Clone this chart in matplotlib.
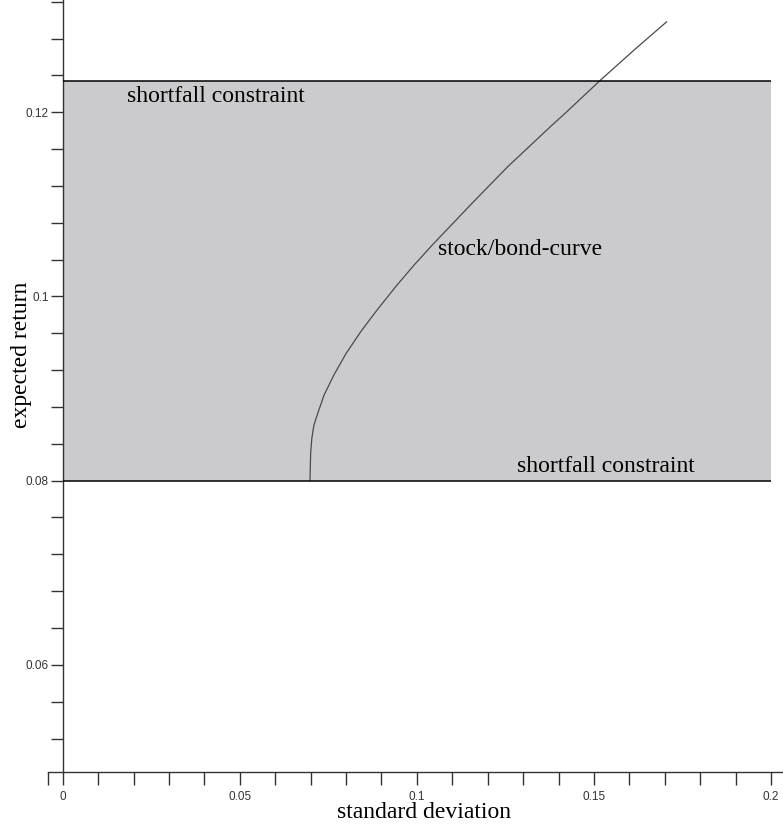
import numpy as np
import matplotlib
matplotlib.use("Agg")
import matplotlib.pyplot as plt

# stock/bond efficient curve (standard deviation, expected return)
sigma_curve = [0.0698, 0.0699, 0.0700, 0.0703, 0.0709, 0.0719, 0.0738, 0.0766,
               0.0800, 0.0842, 0.0887, 0.0941, 0.0992, 0.1044, 0.1101, 0.1158,
               0.1257, 0.1379, 0.1422, 0.1519, 0.1615, 0.1705]
return_curve = [0.0800, 0.0815, 0.0830, 0.0845, 0.0860, 0.0872, 0.0893, 0.0915,
                0.0938, 0.0962, 0.0985, 0.1011, 0.1034, 0.1056, 0.1079, 0.1102,
                0.1141, 0.1185, 0.1200, 0.1235, 0.1268, 0.1298]

# shortfall constraints bounding the admissible band
shortfall_low = 0.08
shortfall_high = 0.1234
band_sigma = [0.0, 0.2]

x_major = [0, 0.05, 0.1, 0.15, 0.2]
x_major_labels = ["0", "0.05", "0.1", "0.15", "0.2"]
y_major = [0.06, 0.08, 0.1, 0.12]
y_major_labels = ["0.06", "0.08", "0.1", "0.12"]

W, H = 783, 832
fig = plt.figure(figsize=(W / 100, H / 100), dpi=100)
ax = fig.add_axes([48.3 / W, (H - 771.7) / H, 1 - 48.3 / W, 771.7 / H])
ax.set_xlim(-0.0041, 0.2034)
ax.set_ylim(0.0484, 0.13218)

ax.fill_between(band_sigma, shortfall_low, shortfall_high, color="#cbcbcd", lw=0, zorder=1)
ax.hlines([shortfall_low, shortfall_high], band_sigma[0], band_sigma[1],
          color="black", lw=1.1, zorder=3)
ax.plot(sigma_curve, return_curve, color="#4a4a4a", lw=0.9, zorder=2)

serif = "Liberation Serif"
ax.text(0.0182, 0.12166, "shortfall constraint", family=serif, fontsize=17,
        ha="left", va="center")
ax.text(0.1283, 0.08155, "shortfall constraint", family=serif, fontsize=17,
        ha="left", va="center")
ax.text(0.1059, 0.1051, "stock/bond-curve", family=serif, fontsize=17,
        ha="left", va="center")

fig.text(424 / W, 1 - 813 / H, "standard deviation", family=serif, fontsize=17,
         ha="center", va="center")
fig.text(22 / W, 1 - 355 / H, "expected return", family=serif, fontsize=17,
         rotation=90, ha="center", va="center")

# axes: y-axis crosses at sigma = 0, x-axis along the bottom
for s in ("top", "right"):
    ax.spines[s].set_visible(False)
ax.spines["left"].set_position(("data", 0))
for s in ("left", "bottom"):
    ax.spines[s].set_color("#333333")
    ax.spines[s].set_linewidth(1.0)

ax.set_xticks(x_major)
ax.set_xticklabels(x_major_labels)
ax.set_xticks([-0.0041] + list(np.round(np.arange(0.01, 0.2, 0.01), 3)), minor=True)
ax.set_yticks(y_major)
ax.set_yticklabels(y_major_labels)
ax.set_yticks(list(np.round(np.arange(0.052, 0.1321, 0.004), 3)), minor=True)

ax.tick_params(which="both", direction="out", length=9, width=1.0, color="#333333",
               labelsize=8.5, labelcolor="#333333")
ax.tick_params(axis="x", which="both", pad=5)
ax.tick_params(axis="y", which="both", pad=1)
for lab in ax.get_xticklabels() + ax.get_yticklabels():
    lab.set_family("Liberation Sans")
ax.patch.set_visible(False)

fig.savefig("out.png", dpi=100)
